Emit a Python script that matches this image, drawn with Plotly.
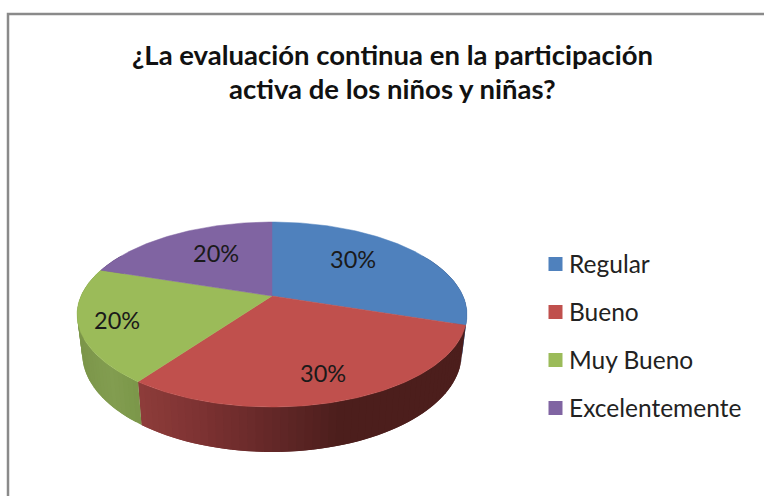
import math
import plotly.graph_objects as go

# Data
categories = ["Regular", "Bueno", "Muy Bueno", "Excelentemente"]
values = [30, 30, 20, 20]
title_lines = ["¿La evaluación continua en la participación", "activa de los niños y niñas?"]

# Style
top_colors = ["#4F81BD", "#C0504D", "#9BBB59", "#8064A2"]
side_stops = [
    [(100, (60, 85, 125)), (470, (60, 85, 125))],
    [(140, (141, 60, 58)), (200, (125, 50, 50)), (270, (100, 40, 40)), (340, (76, 30, 28)), (470, (76, 30, 28))],
    [(80, (124, 150, 74)), (110, (130, 157, 80)), (142, (122, 150, 72))],
    [(80, (90, 70, 115)), (140, (90, 70, 115))],
]
label_pos = [(353, 259), (323, 373), (117, 320), (216, 253)]
legend_rows = [263, 311, 359, 407]
title_rows = [54, 88]
FONT = "Lato, Carlito, Calibri, sans-serif"

# Perspective projection of the disc (pixel-based axes)
CX, K = 272.0, 0.2
TOP = (191.0, 296.0, 88.8)
BOT = (186.0, 333.6, 94.7)


def project(theta, rim):
    r, cy, b = rim
    u, v = math.sin(theta), -math.cos(theta)
    w = 1 - K * v
    return CX + r * u / w, cy + b * v / w


def color_at(stops, x):
    if x <= stops[0][0]:
        return "rgb(%d,%d,%d)" % stops[0][1]
    for (x0, c0), (x1, c1) in zip(stops, stops[1:]):
        if x <= x1:
            t = (x - x0) / (x1 - x0)
            return "rgb(%d,%d,%d)" % tuple(round(a + (b - a) * t) for a, b in zip(c0, c1))
    return "rgb(%d,%d,%d)" % stops[-1][1]


total = sum(values)
bounds = [0.0]
for val in values:
    bounds.append(bounds[-1] + 2 * math.pi * val / total)

fig = go.Figure()
STEP = math.radians(2)
VIS0, VIS1 = math.radians(60), math.radians(300)

# Side wall: overlapping strips painted in order, so no seams appear
for i in range(len(values)):
    a0, a1 = max(bounds[i], VIS0), min(bounds[i + 1], VIS1)
    if a1 <= a0:
        continue
    n = max(1, math.ceil((a1 - a0) / STEP))
    for j in range(n):
        t0 = a0 + (a1 - a0) * j / n
        t1 = a0 + (a1 - a0) * (j + 1) / n
        t2 = min(a1, t1 + STEP)
        pts = [project(t0, TOP), project(t0 + (t2 - t0) / 2, TOP), project(t2, TOP),
               project(t2, BOT), project(t0 + (t2 - t0) / 2, BOT), project(t0, BOT)]
        xs, ys = zip(*pts)
        col = color_at(side_stops[i], (project(t0, TOP)[0] + project(t1, TOP)[0]) / 2)
        fig.add_trace(go.Scatter(x=list(xs) + [xs[0]], y=list(ys) + [ys[0]], mode="lines",
                                 fill="toself", fillcolor=col, line=dict(width=0),
                                 hoverinfo="skip", showlegend=False))

# Top face
for i, cat in enumerate(categories):
    a0, a1 = bounds[i], bounds[i + 1]
    n = max(2, math.ceil((a1 - a0) / math.radians(1)))
    pts = [project(a0 + (a1 - a0) * j / n, TOP) for j in range(n + 1)]
    xs = [CX] + [p[0] for p in pts] + [CX]
    ys = [TOP[1]] + [p[1] for p in pts] + [TOP[1]]
    fig.add_trace(go.Scatter(x=xs, y=ys, mode="lines", fill="toself", fillcolor=top_colors[i],
                             line=dict(color=top_colors[i], width=0.5), name=cat,
                             hoverinfo="name", showlegend=False))

# Legend: swatches and real text
for i, cat in enumerate(categories):
    fig.add_trace(go.Scatter(x=[555.5], y=[legend_rows[i] + 1], mode="markers", name=cat,
                             marker=dict(symbol="square", size=14, color=top_colors[i]),
                             hoverinfo="name", showlegend=False))
    fig.add_annotation(x=567, y=legend_rows[i], text=cat, showarrow=False, xanchor="left",
                       font=dict(family=FONT, size=24.5, color="#222222"))

# Percent labels
for val, (lx, ly) in zip(values, label_pos):
    fig.add_annotation(x=lx, y=ly, text="%d%%" % round(100 * val / total), showarrow=False,
                       font=dict(family=FONT, size=23.5, color="#1a1a1a"))

# Title
for line, row in zip(title_lines, title_rows):
    fig.add_annotation(x=392, y=row, text="<b>%s</b>" % line, showarrow=False,
                       font=dict(family=FONT, size=27.5, color="#111111"))

fig.update_layout(
    width=764, height=496, margin=dict(l=0, r=0, t=0, b=0),
    paper_bgcolor="white", plot_bgcolor="white",
    xaxis=dict(range=[0, 764], visible=False, fixedrange=True),
    yaxis=dict(range=[496, 0], visible=False, fixedrange=True),
    shapes=[dict(type="path", path="M 8 496 L 8 14 L 764 14", xref="x", yref="y",
                 line=dict(color="#8a8a8a", width=2.5))],
    showlegend=False,
)

fig.write_html("out.html", config={"displayModeBar": False},
               post_script="document.body.style.margin='0';document.body.style.overflow='hidden';")
